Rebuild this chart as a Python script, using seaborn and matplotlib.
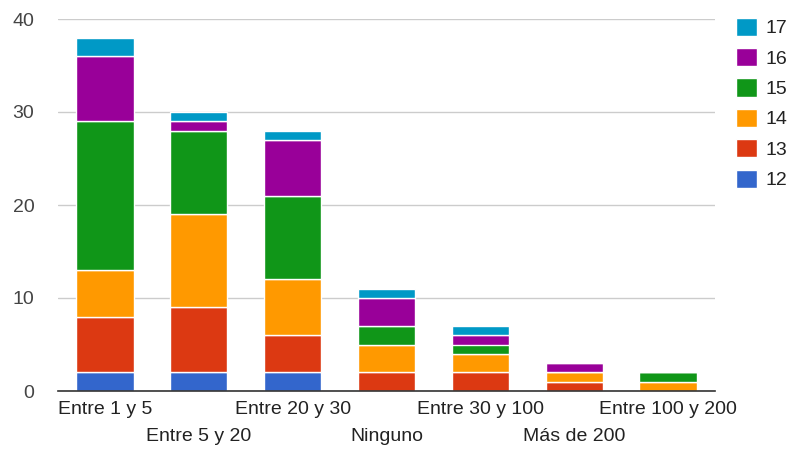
import numpy as np
import pandas as pd
import matplotlib
matplotlib.use("Agg")
import matplotlib.pyplot as plt
import seaborn as sns
from matplotlib.patches import Patch

# 데이터
categories = ["Entre 1 y 5", "Entre 5 y 20", "Entre 20 y 30", "Ninguno",
              "Entre 30 y 100", "Más de 200", "Entre 100 y 200"]
series_names = ["12", "13", "14", "15", "16", "17"]
v12 = [2, 2, 2, 0, 0, 0, 0]
v13 = [6, 7, 4, 2, 2, 1, 0]
v14 = [5, 10, 6, 3, 2, 1, 1]
v15 = [16, 9, 9, 2, 1, 0, 1]
v16 = [7, 1, 6, 3, 1, 1, 0]
v17 = [2, 1, 1, 1, 1, 0, 0]
colors = ["#3366cc", "#dc3912", "#ff9900", "#109618", "#990099", "#0099c6"]

sns.set_style("white")
plt.rcParams["font.family"] = ["Liberation Sans", "DejaVu Sans"]
fs = 14

fig = plt.figure(figsize=(7.94, 4.53), dpi=100)
ax = fig.add_axes([58 / 794, 1 - 391 / 453, (715 - 58) / 794, (391 - 19) / 453])

bottom = np.zeros(len(categories))
for name, vals, col in zip(series_names, [v12, v13, v14, v15, v16, v17], colors):
    df = pd.DataFrame({"cat": categories, "val": vals})
    sns.barplot(data=df, x="cat", y="val", order=categories, color=col,
                bottom=bottom, width=0.61, edgecolor="white", linewidth=1,
                saturation=1, ax=ax, zorder=3)
    bottom = bottom + np.array(vals)

ax.set_ylim(0, 40)
ax.set_xlim(-0.5, len(categories) - 0.5)
ax.set_yticks([0, 10, 20, 30, 40])
ax.yaxis.grid(True, color="#cccccc", linewidth=1, zorder=0)
ax.set_axisbelow(True)
for s in ["top", "right", "left"]:
    ax.spines[s].set_visible(False)
ax.spines["bottom"].set_color("#333333")
ax.spines["bottom"].set_linewidth(1.2)
ax.spines["bottom"].set_zorder(5)

# x 라벨 두 줄로 엇갈리게
ax.set_xticks(range(len(categories)))
ax.set_xticklabels(categories, fontsize=fs, color="#222222")
ax.tick_params(axis="x", length=0)
for i, tick in enumerate(ax.xaxis.get_major_ticks()):
    tick.set_pad(7 if i % 2 == 0 else 26.5)
ax.tick_params(axis="y", length=0, pad=17, labelsize=fs, labelcolor="#444444")
ax.set_xlabel("")
ax.set_ylabel("")

handles = [Patch(facecolor=c, edgecolor="white") for c in colors][::-1]
fig.legend(handles, series_names[::-1], loc="upper left",
           bbox_to_anchor=(728 / 794, 1 - 10 / 453), frameon=False,
           fontsize=fs, labelcolor="#222222", handlelength=1.1,
           handleheight=1.05, handletextpad=0.45, labelspacing=0.55,
           borderaxespad=0)

fig.savefig("out.png", dpi=100)
plt.close()
